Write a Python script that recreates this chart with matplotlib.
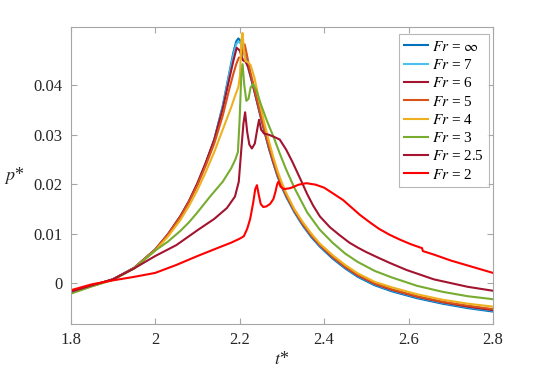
import matplotlib
matplotlib.use("Agg")
import matplotlib.pyplot as plt

plt.rcParams['font.family'] = ['Liberation Serif', 'DejaVu Serif']
plt.rcParams['mathtext.fontset'] = 'stix'

# ---------------- data ----------------
t_inf = [1.80, 1.85, 1.90, 1.95, 2.00, 2.03, 2.06, 2.08, 2.10, 2.12, 2.14, 2.16, 2.175, 2.185, 2.192, 2.197, 2.203, 2.21, 2.22,
         2.23, 2.24, 2.25, 2.26, 2.27, 2.28, 2.29, 2.30, 2.31, 2.33, 2.35, 2.37, 2.39, 2.42, 2.45, 2.48, 2.52, 2.56, 2.62, 2.68, 2.74, 2.80]
p_inf = [-0.0018, -0.0005, 0.0008, 0.0031, 0.0068, 0.0098, 0.0135, 0.0165, 0.0200, 0.0242, 0.0290, 0.0358, 0.0422, 0.0465, 0.0488, 0.0494, 0.0488, 0.0468, 0.0437,
         0.0405, 0.0370, 0.0335, 0.0302, 0.0270, 0.0242, 0.0215, 0.0194, 0.0175, 0.0143, 0.0116, 0.0093, 0.0074, 0.0050, 0.0030, 0.0013, -0.0004, -0.0016, -0.0030, -0.0041, -0.0050, -0.0057]

t_7 = [1.80, 1.85, 1.90, 1.95, 2.00, 2.03, 2.06, 2.08, 2.10, 2.12, 2.14, 2.16, 2.175, 2.185, 2.192, 2.197, 2.203, 2.21, 2.22,
       2.23, 2.24, 2.25, 2.26, 2.27, 2.28, 2.29, 2.30, 2.31, 2.33, 2.35, 2.37, 2.39, 2.42, 2.45, 2.48, 2.52, 2.56, 2.62, 2.68, 2.74, 2.80]
p_7 = [-0.0018, -0.0005, 0.0008, 0.0031, 0.0068, 0.0098, 0.0135, 0.0165, 0.0200, 0.0242, 0.0289, 0.0356, 0.0419, 0.0460, 0.0482, 0.0488, 0.0483, 0.0465, 0.0435,
       0.0405, 0.0371, 0.0336, 0.0303, 0.0271, 0.0243, 0.0217, 0.0196, 0.0177, 0.0145, 0.0118, 0.0095, 0.0076, 0.0052, 0.0032, 0.0015, -0.0002, -0.0014, -0.0028, -0.0039, -0.0048, -0.0055]

t_6 = [1.80, 1.85, 1.90, 1.95, 2.00, 2.03, 2.06, 2.08, 2.10, 2.12, 2.14, 2.16, 2.175, 2.185, 2.193, 2.200, 2.208, 2.214, 2.220,
       2.23, 2.24, 2.25, 2.26, 2.27, 2.28, 2.29, 2.30, 2.31, 2.33, 2.35, 2.37, 2.39, 2.42, 2.45, 2.48, 2.52, 2.56, 2.62, 2.68, 2.74, 2.80]
p_6 = [-0.0018, -0.0005, 0.0008, 0.0031, 0.0068, 0.0099, 0.0136, 0.0166, 0.0202, 0.0244, 0.0290, 0.0352, 0.0410, 0.0448, 0.0475, 0.0470, 0.0450, 0.0447, 0.0437,
       0.0405, 0.0371, 0.0337, 0.0304, 0.0272, 0.0244, 0.0218, 0.0197, 0.0178, 0.0146, 0.0119, 0.0096, 0.0077, 0.0053, 0.0033, 0.0016, -0.0001, -0.0013, -0.0027, -0.0038, -0.0047, -0.0054]

t_5 = [1.80, 1.85, 1.90, 1.95, 2.00, 2.03, 2.06, 2.08, 2.10, 2.12, 2.14, 2.16, 2.175, 2.185, 2.192, 2.198, 2.204, 2.208, 2.212, 2.217, 2.225,
       2.24, 2.25, 2.26, 2.27, 2.28, 2.29, 2.30, 2.31, 2.33, 2.35, 2.37, 2.39, 2.42, 2.45, 2.48, 2.52, 2.56, 2.62, 2.68, 2.74, 2.80]
p_5 = [-0.0019, -0.0005, 0.0008, 0.0031, 0.0068, 0.0098, 0.0134, 0.0164, 0.0198, 0.0238, 0.0282, 0.0338, 0.0390, 0.0422, 0.0442, 0.0455, 0.0456, 0.0470, 0.0482, 0.0462, 0.0428,
       0.0375, 0.0340, 0.0306, 0.0275, 0.0246, 0.0220, 0.0198, 0.0179, 0.0147, 0.0120, 0.0097, 0.0078, 0.0054, 0.0034, 0.0017, 0.0000, -0.0012, -0.0026, -0.0037, -0.0045, -0.0052]

t_4 = [1.80, 1.85, 1.90, 1.95, 2.00, 2.03, 2.06, 2.08, 2.10, 2.12, 2.14, 2.16, 2.18, 2.19, 2.197, 2.201, 2.204, 2.207, 2.210, 2.214, 2.22, 2.226,
       2.235, 2.25, 2.26, 2.27, 2.28, 2.29, 2.30, 2.31, 2.33, 2.35, 2.37, 2.39, 2.42, 2.45, 2.48, 2.52, 2.56, 2.62, 2.68, 2.74, 2.80]
p_4 = [-0.0020, -0.0006, 0.0007, 0.0030, 0.0066, 0.0094, 0.0128, 0.0156, 0.0188, 0.0225, 0.0265, 0.0310, 0.0355, 0.0380, 0.0396, 0.0420, 0.0490, 0.0505, 0.0470, 0.0448, 0.0446, 0.0440,
       0.0415, 0.0355, 0.0318, 0.0285, 0.0254, 0.0226, 0.0203, 0.0183, 0.0149, 0.0123, 0.0100, 0.0080, 0.0057, 0.0037, 0.0020, 0.0003, -0.0008, -0.0022, -0.0033, -0.0041, -0.0047]

t_3 = [1.80, 1.85, 1.90, 1.95, 2.00, 2.03, 2.06, 2.08, 2.10, 2.13, 2.16, 2.18, 2.19, 2.196, 2.200, 2.204, 2.207, 2.211, 2.216, 2.221, 2.226,
       2.232, 2.24, 2.25, 2.265, 2.28, 2.295, 2.31, 2.33, 2.36, 2.39, 2.42, 2.45, 2.48, 2.52, 2.56, 2.62, 2.68, 2.74, 2.80]
p_3 = [-0.0021, -0.0006, 0.0007, 0.0030, 0.0066, 0.0084, 0.0106, 0.0123, 0.0143, 0.0175, 0.0205, 0.0232, 0.0250, 0.0265, 0.0330, 0.0420, 0.0442, 0.0400, 0.0368, 0.0372, 0.0395,
       0.0402, 0.0388, 0.0362, 0.0327, 0.0296, 0.0262, 0.0230, 0.0192, 0.0143, 0.0108, 0.0082, 0.0060, 0.0043, 0.0025, 0.0012, -0.0005, -0.0017, -0.0026, -0.0032]

t_25 = [1.80, 1.85, 1.90, 1.95, 2.00, 2.05, 2.10, 2.14, 2.17, 2.189, 2.198, 2.204, 2.209, 2.213, 2.218, 2.223, 2.229, 2.236, 2.242,
        2.246, 2.251, 2.258, 2.268, 2.28, 2.295, 2.31, 2.325, 2.343, 2.36, 2.374, 2.39, 2.414, 2.437, 2.46, 2.48, 2.50, 2.53, 2.556,
        2.595, 2.66, 2.74, 2.80]
p_25 = [-0.0017, -0.0004, 0.0008, 0.0030, 0.0055, 0.0077, 0.0107, 0.0130, 0.0152, 0.0175, 0.0205, 0.0270, 0.0322, 0.0345, 0.0305, 0.0280, 0.0272, 0.0282, 0.0312,
        0.0330, 0.0310, 0.0302, 0.0300, 0.0296, 0.0290, 0.0270, 0.0245, 0.0212, 0.0180, 0.0157, 0.0135, 0.0113, 0.0097, 0.0082, 0.0072, 0.0063, 0.0051, 0.0041,
        0.0027, 0.0008, -0.0007, -0.0015]

t_2 = [1.80, 1.85, 1.90, 1.95, 2.00, 2.05, 2.10, 2.15, 2.18, 2.20, 2.21, 2.218, 2.225, 2.232, 2.237, 2.241, 2.245, 2.25, 2.256,
       2.263, 2.272, 2.28, 2.285, 2.289, 2.292, 2.297, 2.305, 2.32, 2.34, 2.358, 2.38, 2.40, 2.42, 2.445, 2.465, 2.485, 2.51, 2.53, 2.555, 2.58, 2.605,
       2.632, 2.634, 2.66, 2.70, 2.74, 2.80]
p_2 = [-0.0014, -0.0002, 0.0006, 0.0013, 0.0021, 0.0037, 0.0055, 0.0072, 0.0082, 0.0090, 0.0095, 0.0110, 0.0130, 0.0162, 0.0190, 0.0198, 0.0180, 0.0160, 0.0154,
       0.0155, 0.0160, 0.0170, 0.0185, 0.0200, 0.0205, 0.0195, 0.0190, 0.0192, 0.0199, 0.0202, 0.0199, 0.0193, 0.0182, 0.0168, 0.0153, 0.0138, 0.0122, 0.0110, 0.0098, 0.0088, 0.0079,
       0.0071, 0.0065, 0.0058, 0.0046, 0.0036, 0.0021]

series = [
    (t_inf, p_inf, '#0072BD', r'$Fr$ = $\infty$'),
    (t_7, p_7, '#4DBEEE', r'$Fr$ = 7'),
    (t_6, p_6, '#A2142F', r'$Fr$ = 6'),
    (t_5, p_5, '#D95319', r'$Fr$ = 5'),
    (t_4, p_4, '#EDB120', r'$Fr$ = 4'),
    (t_3, p_3, '#77AC30', r'$Fr$ = 3'),
    (t_25, p_25, '#A2142F', r'$Fr$ = 2.5'),
    (t_2, p_2, '#FF0000', r'$Fr$ = 2'),
]

x_ticks = [1.8, 2.0, 2.2, 2.4, 2.6, 2.8]
x_ticklabels = ['1.8', '2', '2.2', '2.4', '2.6', '2.8']
y_ticks = [0, 0.01, 0.02, 0.03, 0.04]
y_ticklabels = ['0', '0.01', '0.02', '0.03', '0.04']

# ---------------- plot ----------------
fig = plt.figure(figsize=(5.45, 3.69), dpi=100)
ax = fig.add_axes([0.1297, 0.122, 0.9046 - 0.1297, 0.9268 - 0.122])

for t, p, c, lab in series:
    ax.plot(t, p, color=c, lw=1.5, label=lab)

ax.set_xlim(1.8, 2.8)
ax.set_ylim(-0.0082, 0.0517)
ax.set_xticks(x_ticks)
ax.set_xticklabels(x_ticklabels)
ax.set_yticks(y_ticks)
ax.set_yticklabels(y_ticklabels)

spine_c = '#A6A6A6'
for s in ax.spines.values():
    s.set_color(spine_c)
    s.set_linewidth(0.8)
ax.tick_params(direction='in', top=True, right=True, length=4, width=0.8,
               color=spine_c, labelcolor='#262626', labelsize=12, pad=6)

ax.set_xlabel(r'$t$*', fontsize=13, color='#262626', labelpad=2)
ax.set_ylabel(r'$p$*', fontsize=13, color='#262626', rotation=0, labelpad=14, va='center')

leg = ax.legend(loc='upper right', bbox_to_anchor=(0.99, 0.975), fontsize=11, frameon=True,
                fancybox=False, edgecolor=spine_c, handlelength=1.6, handletextpad=0.2,
                borderpad=0.35, labelspacing=0.28, borderaxespad=0.0)
leg.get_frame().set_linewidth(0.8)

fig.savefig('out.png', dpi=100)
